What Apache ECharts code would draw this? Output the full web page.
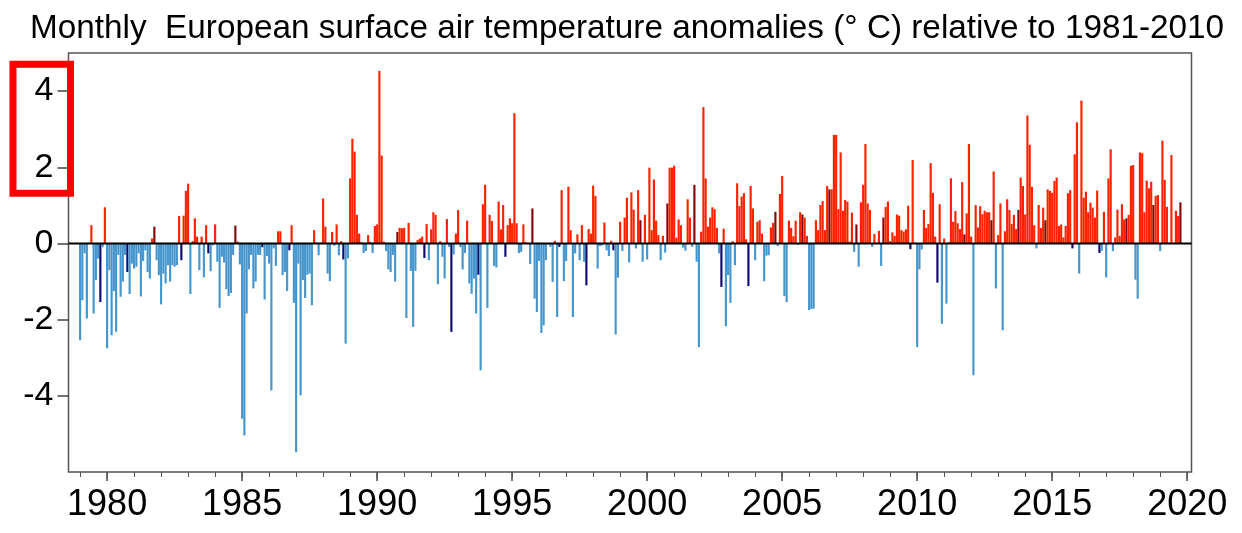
<!DOCTYPE html>
<html><head><meta charset="utf-8">
<script src="https://cdn.jsdelivr.net/npm/echarts@6/dist/echarts.min.js"></script>
<style>html,body{margin:0;padding:0;background:#fff}#c{width:1242px;height:533px}</style>
</head><body><div id="c"></div>
<script>
const titleText = 'Monthly  European surface air temperature anomalies (\u00b0 C) relative to 1981-2010';
const startYear = 1979;
const highlightMonth = 9; // October of each year drawn in a darker shade
// Monthly anomalies (°C), Jan 1979 .. Oct 2019, one row per year
const anomalies = [
  -2.54,-1.49,-0.26,-1.97, 0.02, 0.48,-1.84,-0.96,-0.40,-1.54,-0.10, 0.95, // 1979
  -2.75,-0.70,-2.41,-1.25,-2.32,-0.30,-1.40,-1.00,-0.30,-0.75,-1.33,-0.53, // 1980
  -0.66,-0.61,-0.26,-1.39,-0.46,-0.18,-0.75,-0.92, 0.13, 0.44,-0.44,-0.83, // 1981
  -1.60,-0.79,-1.05,-0.57,-1.00,-0.57,-0.61,-0.57, 0.72,-0.44, 0.73, 1.38, // 1982
   1.57,-1.33, 0.06, 0.66, 0.18,-0.70, 0.18,-0.89, 0.48,-0.26,-0.73,-0.05, // 1983
   0.50,-0.48,-1.69,-0.35,-0.50,-1.20,-1.38,-1.30,-0.30, 0.47, 0.05,-0.55, // 1984
  -4.60,-5.04,-1.84,-0.68,-0.30,-1.18,-1.00,-0.30,-0.30,-0.10,-1.47,-0.33, // 1985
  -0.53,-3.86,-0.13,-0.59, 0.32, 0.32,-0.83,-0.75,-1.25,-0.18, 0.48,-1.56, // 1986
  -5.48,-0.53,-3.99,-0.96,-1.43,-0.82,-0.79,-1.62, 0.35, 0.02,-0.31, 0.02, // 1987
   1.18, 0.44,-0.79,-0.99, 0.30,-0.06, 0.50,-0.31, 0.06,-0.42,-2.63,-0.39, // 1988
   1.71, 2.75, 2.41, 0.75, 0.26, 0.04,-0.25,-0.20, 0.22, 0.04,-0.25, 0.46, // 1989
   0.50, 4.53, 2.31, 0.05,-0.20,-0.68,-0.75,-0.30,-1.00, 0.30, 0.41, 0.40, // 1990
   0.41,-1.96, 0.54,-0.72,-2.19,-0.72, 0.09, 0.13, 0.18,-0.38, 0.51,-0.44, // 1991
   0.37, 0.82, 0.75,-1.07, 0.06,-0.35,-0.92, 0.64,-0.09,-2.32,-0.29, 0.26, // 1992
   0.88,-0.10,-0.68,-0.25, 0.60,-1.05,-1.32,-0.92,-1.84,-0.82,-3.33, 1.03, // 1993
   1.54,-1.69, 0.75, 0.59,-0.59,-0.63, 1.10, 0.37, 1.01,-0.35, 0.48, 0.66, // 1994
   0.53, 3.42, 0.53,-0.25,-0.22, 0.50, 0.04,-0.02,-0.54, 0.92,-1.45,-1.80, // 1995
  -0.46,-2.35,-2.15,-0.44,-0.02,-0.09,-1.01, 0.07,-1.93,-0.09, 1.40,-0.99, // 1996
  -0.46, 1.49, 0.35,-1.93,-0.26, 0.24,-0.44, 0.48,-0.48,-1.10, 0.38, 0.26, // 1997
   1.52, 1.25,-0.66,-0.07,-0.05, 0.55,-0.18,-0.33, 0.07,-0.18,-2.39,-0.90, // 1998
   0.57,-0.20, 0.68, 1.20,-0.50, 1.34, 0.89,-0.13, 1.40, 0.61,-0.48, 0.75, // 1999
  -0.42, 1.99, 0.35, 1.68, 0.60, 0.22,-0.44, 0.20,-0.24, 1.05, 1.99, 1.99, // 2000
   2.04, 0.15, 0.63, 0.48,-0.11,-0.19, 1.16, 0.68,-0.09, 1.54,-0.48,-2.72, // 2001
   0.31, 3.58, 1.71, 0.44, 0.68, 0.95, 0.90, 0.41,-0.26,-1.14, 0.39,-2.17, // 2002
  -0.83,-1.56, 0.06,-0.57, 1.58, 0.98, 1.23, 1.32, 0.11,-1.12, 1.51, 0.92, // 2003
  -0.44, 0.57, 0.61, 0.26,-0.99,-0.32,-0.31, 0.42, 0.54, 0.83,-0.07, 1.30, // 2004
   1.77,-1.38,-1.54, 0.60, 0.41, 0.19, 0.60,-0.04, 0.82, 0.76, 0.68, 0.20, // 2005
  -1.75,-1.72,-1.71, 0.61, 0.35, 1.01, 1.11, 0.35, 1.51, 1.42, 1.42, 2.85, // 2006
   2.85, 0.90, 2.39, 0.86, 1.14, 1.10, 0.05, 0.81,-0.22, 0.50,-0.61, 1.08, // 2007
   1.54, 2.61, 1.05, 0.88,-0.09, 0.25, 0.02, 0.33,-0.59, 0.68, 0.96, 1.10, // 2008
   0.06, 0.29, 0.20, 0.76, 0.73, 0.35, 0.31, 0.37, 0.99,-0.15, 2.19, 0.02, // 2009
  -2.72,-0.68,-0.16, 0.88, 0.41, 0.51, 2.11, 1.33, 0.18,-1.03, 1.03,-2.11, // 2010
   0.13,-1.58, 0.03, 1.71, 0.57, 0.85, 0.53, 0.38, 1.61, 0.24, 0.79, 2.61, // 2011
   0.18,-3.46, 1.01, 0.42, 0.98, 0.77, 0.86, 0.82, 0.82, 0.61, 1.89,-1.18, // 2012
   0.22, 1.05,-2.28, 0.32, 1.16, 0.88, 0.51, 0.75, 0.38, 0.88, 1.73, 1.51, // 2013
   0.76, 3.36, 2.59, 1.49, 0.48,-0.13, 1.01, 0.41, 0.94, 0.61, 1.42, 1.38, // 2014
   1.33, 1.64, 1.73, 0.46, 0.50, 0.16, 0.46, 1.32, 1.40,-0.13, 2.34, 3.18, // 2015
  -0.79, 3.75, 1.20, 1.36, 0.82, 1.07, 0.94, 0.68, 1.39,-0.25,-0.20, 0.83, // 2016
  -0.89, 1.71, 2.47,-0.20, 0.16, 0.89, 0.20, 1.03, 0.63, 0.66, 0.75, 2.04, // 2017
   2.06,-0.95,-1.45, 2.39, 2.37, 0.82, 1.65, 1.45, 1.62, 1.01, 1.25, 1.27, // 2018
  -0.20, 2.70, 1.67, 0.96, 0.02, 2.32, 0.02, 0.86, 0.72, 1.08              // 2019
];
const yTickValues = [-4, -2, 0, 2, 4];
const xMajorTicks = [1980, 1985, 1990, 1995, 2000, 2005, 2010, 2015, 2020];
const xMinorTicks = [];
for (let y = 1979; y <= 2020; y++) xMinorTicks.push(y);
const xMin = 1978.57, xMax = 2020.16;

const colWarm = '#ff2200', colWarmDark = '#7c0c0c', colCold = '#4696cd', colColdDark = '#0c0c6e';
const barFrac = 0.96; // bar width as a fraction of one month

const barData = anomalies.map(function (v, i) { return [startYear + i / 12, v, i % 12]; });

function renderBar(params, api) {
  const x = api.value(0), v = api.value(1), m = api.value(2);
  const half = barFrac / 24;
  const p0 = api.coord([x - half, 0]);
  const p1 = api.coord([x + half, v]);
  const dark = m === highlightMonth;
  const c = v >= 0 ? (dark ? colWarmDark : colWarm) : (dark ? colColdDark : colCold);
  return {
    type: 'rect',
    shape: { x: p0[0], y: Math.min(p0[1], p1[1]), width: p1[0] - p0[0], height: Math.abs(p1[1] - p0[1]) },
    style: { fill: c }
  };
}

const font = 'Liberation Sans, Arial, Helvetica, sans-serif';
const chart = echarts.init(document.getElementById('c'), null, { renderer: 'canvas' });
chart.setOption({
  animation: false,
  backgroundColor: '#fff',
  title: {
    text: titleText, left: 30, top: 12, padding: 0,
    textStyle: { fontSize: 33.3, fontWeight: 'normal', fontFamily: font, color: '#000' }
  },
  grid: { left: 68.5, right: 50.5, top: 53, bottom: 61, show: true, borderColor: '#555', borderWidth: 1.5, backgroundColor: 'transparent' },
  xAxis: [
    {
      type: 'value', min: xMin, max: xMax, position: 'bottom',
      axisLine: { show: false, onZero: false },
      axisTick: { show: true, customValues: xMajorTicks, length: 9, lineStyle: { color: '#444', width: 1.5 } },
      axisLabel: { show: true, customValues: xMajorTicks, fontSize: 36, fontFamily: font, color: '#000', margin: 15,
        formatter: function (v) { return String(Math.round(v)); } },
      splitLine: { show: false }
    },
    {
      type: 'value', min: xMin, max: xMax, position: 'bottom', offset: 0,
      axisLine: { show: false, onZero: false },
      axisTick: { show: true, customValues: xMinorTicks, length: 5, lineStyle: { color: '#555', width: 1 } },
      axisLabel: { show: false },
      splitLine: { show: false }
    }
  ],
  yAxis: {
    type: 'value', min: -6, max: 5,
    axisLine: { show: false, onZero: false },
    axisTick: { show: true, customValues: yTickValues, length: 11, lineStyle: { color: '#444', width: 1.5 } },
    axisLabel: { show: true, customValues: yTickValues, fontSize: 34, fontFamily: font, color: '#000', margin: 15 },
    splitLine: { show: false }
  },
  series: [
    {
      type: 'custom', xAxisIndex: 0, yAxisIndex: 0,
      renderItem: renderBar,
      encode: { x: 0, y: 1 },
      data: barData
    },
    {
      type: 'line', xAxisIndex: 0, yAxisIndex: 0, silent: true, symbol: 'none', z: 5,
      lineStyle: { color: '#000', width: 2 },
      data: [[xMin, 0], [xMax, 0]]
    }
  ],
  graphic: [{
    type: 'rect', z: 100,
    shape: { x: 13, y: 64.3, width: 57.5, height: 129 },
    style: { fill: 'none', stroke: '#ff0000', lineWidth: 7 }
  }]
});
</script></body></html>
